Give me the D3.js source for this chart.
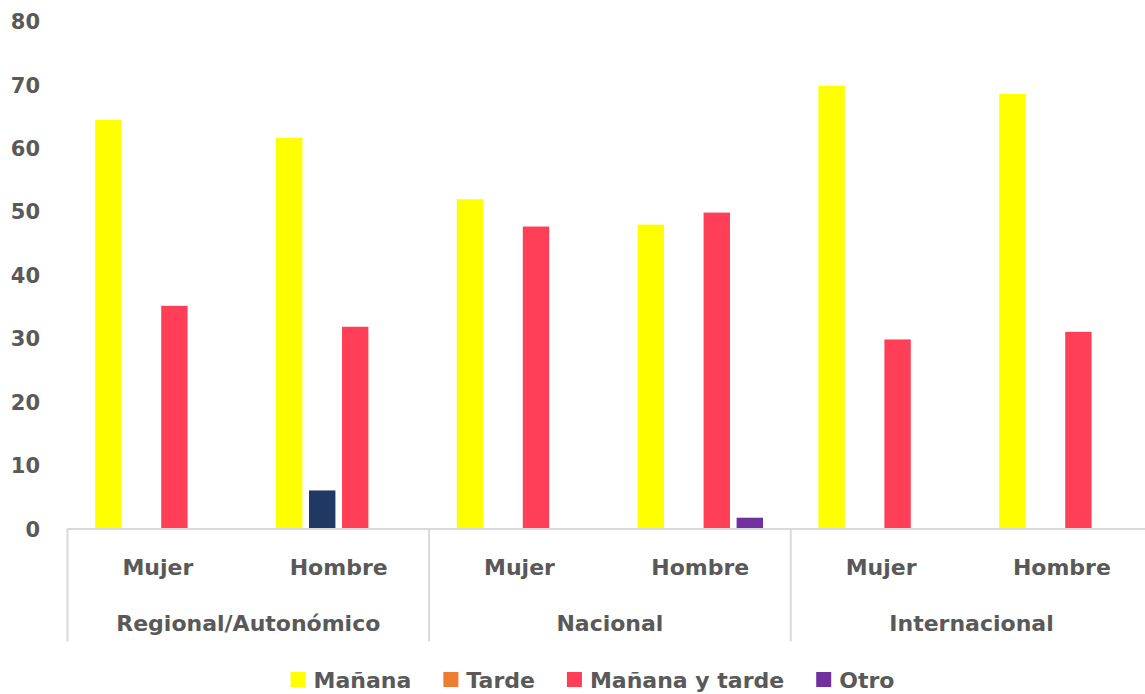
<!DOCTYPE html>
<html>
<head>
<meta charset="utf-8">
<script src="https://cdn.jsdelivr.net/npm/d3@7"></script>
<style>
  html, body { margin: 0; padding: 0; background: #ffffff; }
  svg { display: block; }
  text { font-family: "DejaVu Sans", sans-serif; font-weight: bold; fill: #595959; }
</style>
</head>
<body>
<svg id="chart" width="1145" height="694"></svg>
<script>
// Ámbitos y sexo (eje X en dos niveles)
const groups = ["Regional/Autonómico", "Nacional", "Internacional"];
const sexes = ["Mujer", "Hombre"];

// Series (porcentajes por franja horaria)
const series = ["Mañana", "Tarde", "Mañana y tarde", "Otro"];
const seriesColors = ["#FFFF00", "#ED7D31", "#FF3F57", "#7030A0"];

// Valores en el orden: Reg Mujer, Reg Hombre, Nac Mujer, Nac Hombre, Int Mujer, Int Hombre
const manana      = [64.4, 61.6, 51.9, 47.9, 69.8, 68.5];
const tarde       = [0, 6.0, 0, 0, 0, 0];
const mananaTarde = [35.1, 31.8, 47.6, 49.8, 29.8, 31.0];
const otro        = [0, 0, 0, 1.7, 0, 0];

// Punto con color propio (Tarde, Regional Hombre)
const overrideColors = { "Tarde|1": "#203864" };

const yTicks = [0, 10, 20, 30, 40, 50, 60, 70, 80];

const values = [manana, tarde, mananaTarde, otro];

const svg = d3.select("#chart");

const left = 67.5, right = 1152.3, y0 = 528.5, yTop = 21;

const keys = [];
groups.forEach(g => sexes.forEach(s => keys.push(g + "|" + s)));

const x0 = d3.scaleBand().domain(keys).range([left, right]).paddingInner(0).paddingOuter(0);
const x1 = d3.scaleBand().domain(series).range([0, x0.bandwidth()]).paddingInner(0.2).paddingOuter(0.84);
const y = d3.scaleLinear().domain([0, 80]).range([y0, yTop]);

// Barras
const bars = [];
keys.forEach((k, i) => {
  series.forEach((s, j) => {
    const v = values[j][i];
    if (v > 0) bars.push({ key: k, idx: i, series: s, value: v,
      color: overrideColors[s + "|" + i] || seriesColors[j] });
  });
});

svg.append("g").selectAll("rect").data(bars).join("rect")
  .attr("x", d => x0(d.key) + x1(d.series))
  .attr("y", d => y(d.value))
  .attr("width", x1.bandwidth())
  .attr("height", d => y(0) - y(d.value))
  .attr("fill", d => d.color);

// Eje Y (solo etiquetas)
const yAxis = d3.axisLeft(y).tickValues(yTicks).tickSize(0).tickPadding(0);
const yg = svg.append("g").attr("transform", "translate(40,0)").call(yAxis);
yg.select(".domain").remove();
yg.selectAll("text").style("font-size", "21px").style("font-family", "DejaVu Sans")
  .attr("fill", "#595959").attr("text-anchor", "end").attr("dy", "0.36em");

// Línea base
svg.append("line").attr("x1", left).attr("x2", right).attr("y1", y0 + 0.5).attr("y2", y0 + 0.5)
  .attr("stroke", "#d9d9d9").attr("stroke-width", 2);

// Separadores de grupo
const sepX = groups.map(g => x0(g + "|" + sexes[0])).concat([right]);
svg.append("g").selectAll("line").data(sepX).join("line")
  .attr("x1", d => d).attr("x2", d => d)
  .attr("y1", y0).attr("y2", 641.5)
  .attr("stroke", "#d9d9d9").attr("stroke-width", 2);

// Etiquetas de sexo
svg.append("g").selectAll("text").data(keys).join("text")
  .attr("x", d => x0(d) + x0.bandwidth() / 2)
  .attr("y", 575)
  .attr("text-anchor", "middle")
  .style("font-size", "22px")
  .text(d => d.split("|")[1]);

// Etiquetas de ámbito
svg.append("g").selectAll("text").data(groups).join("text")
  .attr("x", g => x0(g + "|" + sexes[0]) + x0.bandwidth())
  .attr("y", 631)
  .attr("text-anchor", "middle")
  .style("font-size", "22px")
  .text(g => g);

// Leyenda
const legend = svg.append("g");
const items = legend.selectAll("g").data(series).join("g");
items.append("rect").attr("width", 15).attr("height", 15).attr("y", 672)
  .attr("fill", (d, i) => seriesColors[i]);
items.append("text").attr("x", 23).attr("y", 688).style("font-size", "22px").text(d => d);
let cx = 0;
const widths = [];
items.each(function () {
  const w = 23 + this.querySelector("text").getComputedTextLength();
  widths.push(w);
});
const total = d3.sum(widths) + 32 * (series.length - 1);
cx = 592.5 - total / 2;
items.attr("transform", (d, i) => {
  const t = "translate(" + cx + ",0)";
  cx += widths[i] + 32;
  return t;
});
</script>
</body>
</html>
